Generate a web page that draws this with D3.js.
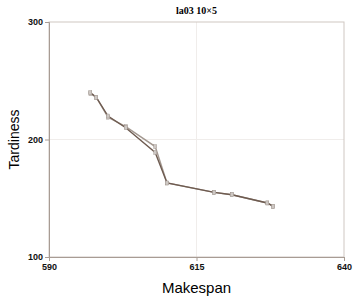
<!DOCTYPE html>
<html>
<head>
<meta charset="utf-8">
<script src="https://cdn.jsdelivr.net/npm/d3@7"></script>
<style>
  body { margin: 0; background: #fff; }
  svg { display: block; }
</style>
</head>
<body>
<div class="chart"></div>
<script>
// two fronts, mostly overlapping
var makespanA = [597, 598, 600, 603, 608, 610, 618, 621, 627, 628];
var tardinessA = [240, 236, 220, 210, 189, 163, 155, 153, 146, 143];
var makespanB = [597, 598, 600, 603, 608, 610, 618, 621, 627, 628];
var tardinessB = [239, 236, 219, 211, 194, 163, 155, 153, 146, 143];
var xTicks = [590, 615, 640];
var yTicks = [100, 200, 300];

var W = 361, H = 299;
var margin = { top: 22, right: 17, bottom: 42, left: 49 };
var width = W - margin.left - margin.right;
var height = H - margin.top - margin.bottom;

var svg = d3.select(".chart").append("svg")
    .attr("width", W)
    .attr("height", H);

var g = svg.append("g")
    .attr("transform", "translate(" + margin.left + "," + margin.top + ")");

var x = d3.scaleLinear().domain([590, 640]).range([0, width]);
var y = d3.scaleLinear().domain([100, 300]).range([height, 0]);

// faint grid
g.selectAll(".gx").data([615]).enter().append("line")
    .attr("x1", function(d) { return x(d); }).attr("x2", function(d) { return x(d); })
    .attr("y1", 0).attr("y2", height)
    .attr("stroke", "#f0edeb").attr("stroke-width", 1);
g.selectAll(".gy").data([200]).enter().append("line")
    .attr("y1", function(d) { return y(d); }).attr("y2", function(d) { return y(d); })
    .attr("x1", 0).attr("x2", width)
    .attr("stroke", "#f0edeb").attr("stroke-width", 1);

// frame
g.append("rect")
    .attr("width", width).attr("height", height)
    .attr("fill", "none").attr("stroke", "#cfc7c2").attr("stroke-width", 1);

var xAxis = g.append("g")
    .attr("transform", "translate(0," + height + ")")
    .call(d3.axisBottom(x).tickValues(xTicks).tickSize(4).tickPadding(3));
var yAxis = g.append("g")
    .call(d3.axisLeft(y).tickValues(yTicks).tickSize(4).tickPadding(2));

[xAxis, yAxis].forEach(function(a) {
  a.select(".domain").attr("stroke", "#a89c94");
  a.selectAll(".tick line").attr("stroke", "#a89c94");
  a.selectAll("text")
    .attr("fill", "#111")
    .style("font-family", "Liberation Sans, Arial, sans-serif")
    .style("font-size", "9px")
    .style("font-weight", "bold");
});

var line = d3.line()
    .x(function(d) { return x(d[0]); })
    .y(function(d) { return y(d[1]); });

var seriesB = d3.zip(makespanB, tardinessB);
var seriesA = d3.zip(makespanA, tardinessA);

g.append("path").datum(seriesB)
    .attr("d", line)
    .attr("fill", "none").attr("stroke", "#a39890").attr("stroke-width", 1.4);
g.append("path").datum(seriesA)
    .attr("d", line)
    .attr("fill", "none").attr("stroke", "#6e5b50").attr("stroke-width", 1.4);

// markers
[seriesB, seriesA].forEach(function(s) {
  g.append("g").selectAll("rect").data(s).enter().append("rect")
      .attr("x", function(d) { return x(d[0]) - 1.5; })
      .attr("y", function(d) { return y(d[1]) - 2; })
      .attr("width", 3).attr("height", 4)
      .attr("fill", "#cdc7c3").attr("stroke", "#9a8f88").attr("stroke-width", 0.4);
});

// title
svg.append("text")
    .attr("x", margin.left + width / 2).attr("y", 14)
    .attr("text-anchor", "middle")
    .style("font-family", "Liberation Serif, Times New Roman, serif")
    .style("font-size", "10px")
    .style("font-weight", "bold")
    .text("la03 10×5");

svg.append("text")
    .attr("x", margin.left + width / 2).attr("y", 293)
    .attr("text-anchor", "middle")
    .style("font-family", "Liberation Sans, Arial, sans-serif")
    .style("font-size", "15px")
    .text("Makespan");

svg.append("text")
    .attr("transform", "translate(19," + (margin.top + height / 2) + ") rotate(-90)")
    .attr("text-anchor", "middle")
    .style("font-family", "Liberation Sans, Arial, sans-serif")
    .style("font-size", "14px")
    .text("Tardiness");
</script>
</body>
</html>
